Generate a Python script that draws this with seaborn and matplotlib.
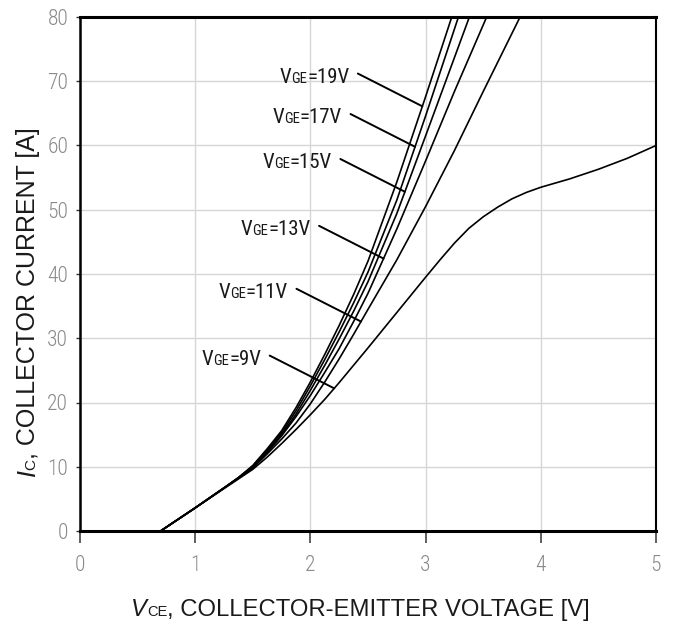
import numpy as np
import pandas as pd
import matplotlib
matplotlib.use("Agg")
import matplotlib.pyplot as plt
import seaborn as sns
from matplotlib.offsetbox import TextArea, HPacker, AnnotationBbox

# ---- output characteristics, IC vs VCE for several gate voltages ----
gate_labels = ["19", "17", "15", "13", "11", "9"]

vce_19 = [0.70, 1.00, 1.25, 1.375, 1.50, 1.625, 1.75, 1.875, 2.00, 2.125, 2.25, 2.375, 2.50, 2.75, 3.00, 3.227]
ic_19 = [0.0, 3.6, 6.7, 8.3, 10.2, 12.8, 15.6, 19.2, 23.2, 27.5, 32.0, 36.8, 42.0, 54.3, 67.6, 80.0]

vce_17 = [0.70, 1.00, 1.25, 1.375, 1.50, 1.625, 1.75, 1.875, 2.00, 2.125, 2.25, 2.375, 2.50, 2.75, 3.00, 3.285]
ic_17 = [0.0, 3.6, 6.7, 8.3, 10.1, 12.6, 15.3, 18.7, 22.6, 26.7, 31.0, 35.5, 40.3, 51.5, 64.6, 80.0]

vce_15 = [0.70, 1.00, 1.25, 1.375, 1.50, 1.625, 1.75, 1.875, 2.00, 2.125, 2.25, 2.375, 2.50, 2.75, 3.00, 3.38]
ic_15 = [0.0, 3.6, 6.7, 8.3, 10.0, 12.4, 15.0, 18.2, 21.9, 25.8, 29.9, 34.2, 38.8, 49.4, 61.5, 80.0]

vce_13 = [0.70, 1.00, 1.25, 1.375, 1.50, 1.625, 1.75, 1.875, 2.00, 2.125, 2.25, 2.375, 2.50, 2.75, 3.00, 3.25, 3.53]
ic_13 = [0.0, 3.6, 6.7, 8.2, 9.9, 12.2, 14.8, 17.8, 21.1, 24.7, 28.4, 32.6, 37.0, 47.0, 57.6, 68.4, 80.0]

vce_11 = [0.70, 1.00, 1.25, 1.375, 1.50, 1.625, 1.75, 1.875, 2.00, 2.125, 2.25, 2.375, 2.50, 2.75, 3.00, 3.25, 3.50, 3.82]
ic_11 = [0.0, 3.6, 6.7, 8.2, 9.8, 12.0, 14.3, 16.8, 19.8, 23.2, 26.8, 30.6, 34.5, 42.2, 50.5, 59.2, 68.4, 80.0]

vce_9 = [0.70, 1.00, 1.25, 1.375, 1.50, 1.625, 1.75, 1.875, 2.00, 2.125, 2.25, 2.375, 2.50, 2.75,
         3.00, 3.125, 3.25, 3.375, 3.50, 3.625, 3.75, 3.875, 4.00, 4.25, 4.50, 4.75, 5.00]
ic_9 = [0.0, 3.6, 6.6, 8.1, 9.6, 11.5, 13.6, 15.8, 18.1, 20.5, 23.1, 25.8, 28.5, 34.0,
        39.5, 42.2, 44.8, 47.1, 48.9, 50.4, 51.7, 52.7, 53.5, 54.8, 56.3, 58.0, 60.0]

# current at which each label's leader touches its curve
leader_ic = [66.1, 59.8, 52.8, 42.4, 32.6, 22.2]

x_ticks = [0, 1, 2, 3, 4, 5]
y_ticks = [0, 10, 20, 30, 40, 50, 60, 70, 80]

curves = list(zip(gate_labels,
                  [vce_19, vce_17, vce_15, vce_13, vce_11, vce_9],
                  [ic_19, ic_17, ic_15, ic_13, ic_11, ic_9]))

df = pd.concat(
    [pd.DataFrame({"vce": v, "ic": i, "vge": lab}) for lab, v, i in curves],
    ignore_index=True,
)

# ---- style ----
sns.set_theme(style="white")
LABEL_FONT = ["Liberation Sans", "DejaVu Sans"]
NARROW_FONT = ["Roboto Condensed", "Liberation Sans", "DejaVu Sans"]
plt.rcParams["font.family"] = LABEL_FONT

W, H = 673, 625
fig = plt.figure(figsize=(W / 100, H / 100), dpi=100)
ax = fig.add_axes([80 / W, 94 / H, 576 / W, 514 / H])

sns.lineplot(
    data=df, x="vce", y="ic", hue="vge",
    palette={lab: "black" for lab in gate_labels},
    estimator=None, legend=False, linewidth=1.2, ax=ax,
)

ax.set_xlim(0, 5)
ax.set_ylim(0, 80)
ax.set_xticks(x_ticks)
ax.set_yticks(y_ticks)
ax.set_xlabel("")
ax.set_ylabel("")

ax.grid(True, color="#d6d6d6", linewidth=1.0)
ax.set_axisbelow(True)

for side, lw in {"top": 2.2, "bottom": 2.2, "left": 1.8, "right": 1.5}.items():
    ax.spines[side].set_visible(True)
    ax.spines[side].set_color("black")
    ax.spines[side].set_linewidth(lw)

ax.tick_params(axis="x", direction="out", length=8.5, width=1.1, color="#333333",
               labelcolor="#8a8a8a", labelsize=15.5, pad=9.0, bottom=True)
ax.tick_params(axis="y", direction="out", length=3, width=1.0, color="#333333",
               labelcolor="#8a8a8a", labelsize=15.5, pad=5.5, left=True)
for lab in ax.get_xticklabels() + ax.get_yticklabels():
    lab.set_family(NARROW_FONT)
    lab.set_fontweight("light")


def rich_box(parts, family, weight="normal"):
    """Row of text pieces sharing one baseline: (text, size, style)."""
    areas = [TextArea(t, textprops=dict(fontsize=s, fontstyle=st, family=family,
                                        fontweight=weight, color="#1a1a1a"))
             for t, s, st in parts]
    return HPacker(children=areas, align="baseline", pad=0, sep=0)


# ---- gate-voltage labels with leader lines ----
lead_dv, lead_di = -0.56, 5.1
for (lab, v, i), i_t in zip(curves, leader_ic):
    v_end = float(np.interp(i_t, i, v))
    v_start, i_start = v_end + lead_dv, i_t + lead_di
    ax.annotate("", xy=(v_end, i_t), xytext=(v_start, i_start),
                arrowprops=dict(arrowstyle="-", lw=1.4, color="black",
                                shrinkA=0, shrinkB=0))
    box = rich_box([("V", 15, "normal"), ("GE", 10.5, "normal"), (f"={lab}V", 15, "normal")],
                   NARROW_FONT, weight="normal")
    ab = AnnotationBbox(box, (v_start, i_start), xybox=(-6.0, -2.5),
                        boxcoords="offset points", box_alignment=(1, 0.5),
                        frameon=False, pad=0, annotation_clip=False)
    ax.add_artist(ab)

# ---- x axis title ----
xbox = rich_box([("V", 17.2, "italic"), ("CE", 10.5, "normal"),
                 (", COLLECTOR-EMITTER VOLTAGE [V]", 17.2, "normal")], LABEL_FONT)
ax_title = AnnotationBbox(xbox, (360.5 / W, 4 / H), xycoords="figure fraction",
                          box_alignment=(0.5, 0), frameon=False, pad=0)
fig.add_artist(ax_title)

# ---- y axis title, built bottom-to-top ----
y_parts = [("I", 18, "italic"), ("C", 11, "normal"), (", COLLECTOR CURRENT [A]", 18, "normal")]
prev, prev_size = None, None
for text, size, style in y_parts:
    if prev is None:
        t = fig.text(40 / W, (H - 477) / H, text, rotation=90, ha="right", va="bottom",
                     fontsize=size, fontstyle=style, family=LABEL_FONT, color="#1a1a1a")
    else:
        dx = -(prev_size - size) * 0.21
        t = ax.annotate(text, xy=(1, 1), xycoords=prev, xytext=(dx, 0),
                        textcoords="offset points", rotation=90, ha="right", va="bottom",
                        fontsize=size, fontstyle=style, family=LABEL_FONT, color="#1a1a1a",
                        annotation_clip=False)
    prev, prev_size = t, size

fig.savefig("out.png", dpi=100)
